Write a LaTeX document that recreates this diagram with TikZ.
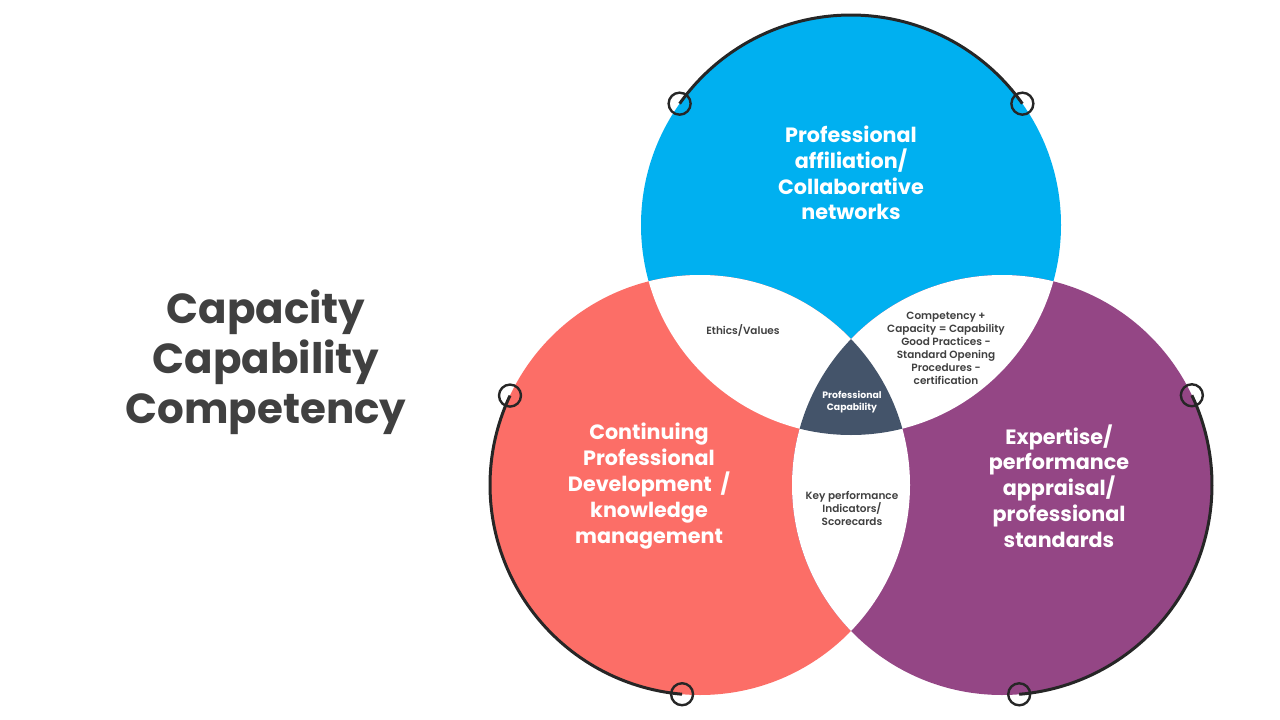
\documentclass[tikz,border=0pt]{standalone}
\usepackage{fontspec}
\usetikzlibrary{calc}
\setmainfont{Poppins}
\newfontfamily\medfont{Poppins SemiBold}
\definecolor{cblue}{HTML}{00B0F0}
\definecolor{cred}{HTML}{FC6E67}
\definecolor{cpurple}{HTML}{944685}
\definecolor{cdark}{HTML}{44546A}
\definecolor{ctext}{HTML}{404040}
\definecolor{cline}{HTML}{262626}
\tikzset{
  bigtext/.style={text=white, align=center, font=\fontsize{20.7}{25.8}\selectfont\bfseries, inner sep=0pt},
  smalltext/.style={text=ctext, align=center, font=\fontsize{10.5}{13}\selectfont\medfont, inner sep=0pt},
  titletext/.style={text=ctext, align=center, font=\fontsize{42}{50}\selectfont\bfseries, inner sep=0pt},
  ring/.style={draw=cline, line width=3pt},
  knob/.style={draw=cline, line width=2.4pt}
}
\begin{document}
\begin{tikzpicture}[x=1pt,y=-1pt]
\useasboundingbox (0,0) rectangle (1280,720);
\coordinate (B) at (851,225);
\coordinate (R) at (700,485);
\coordinate (P) at (1002,485);
\def\rad{210}
% colored circles
\fill[cblue] (B) circle[radius=\rad];
\fill[cred] (R) circle[radius=\rad];
\fill[cpurple] (P) circle[radius=\rad];
% pairwise intersections
\begin{scope}\clip (B) circle[radius=\rad]; \fill[white] (R) circle[radius=\rad]; \fill[white] (P) circle[radius=\rad];\end{scope}
\begin{scope}\clip (R) circle[radius=\rad]; \fill[white] (P) circle[radius=\rad];\end{scope}
% triple intersection
\begin{scope}\clip (B) circle[radius=\rad]; \clip (R) circle[radius=\rad]; \fill[cdark] (P) circle[radius=\rad];\end{scope}
% black arcs
\draw[ring] ($(B)+(-144.7:\rad)$) arc[start angle=-144.7, end angle=-35.3, radius=\rad];
\draw[ring] ($(R)+(205.2:\rad)$) arc[start angle=205.2, end angle=94.9, radius=\rad];
\draw[ring] ($(P)+(-25.3:\rad)$) arc[start angle=-25.3, end angle=85.3, radius=\rad];
% knobs
\draw[knob] ($(B)+(-144.7:\rad)$) circle[radius=11];
\draw[knob] ($(B)+(-35.3:\rad)$) circle[radius=11];
\draw[knob] ($(R)+(205.2:\rad)$) circle[radius=11];
\draw[knob] ($(R)+(94.9:\rad)$) circle[radius=11];
\draw[knob] ($(P)+(-25.3:\rad)$) circle[radius=11];
\draw[knob] ($(P)+(85.3:\rad)$) circle[radius=11];
% texts
\node[titletext] (title) at (266,362) {Capacity\\Capability\\Competency};
\node[bigtext] (tblue) at (851,173) {Professional\\affiliation/\\Collaborative\\networks};
\node[bigtext] (tred) at (649,486) {Continuing\\Professional\\Development~ /\\knowledge\\management};
\node[bigtext] (tpurple) at (1059,486) {Expertise/\\performance\\appraisal/\\professional\\standards};
\node[smalltext] (tethics) at (743,330) {Ethics/Values};
\node[smalltext] (tright) at (946,348) {Competency +\\Capacity = Capability\\Good Practices -\\Standard Opening\\Procedures -\\certification};
\node[smalltext] (tbottom) at (852,508) {Key performance\\Indicators/\\Scorecards};
\node[text=white, align=center, font=\fontsize{9.3}{11.5}\selectfont\bfseries, inner sep=0pt] (tcenter) at (852,402) {Professional\\Capability};
\end{tikzpicture}
\end{document}
